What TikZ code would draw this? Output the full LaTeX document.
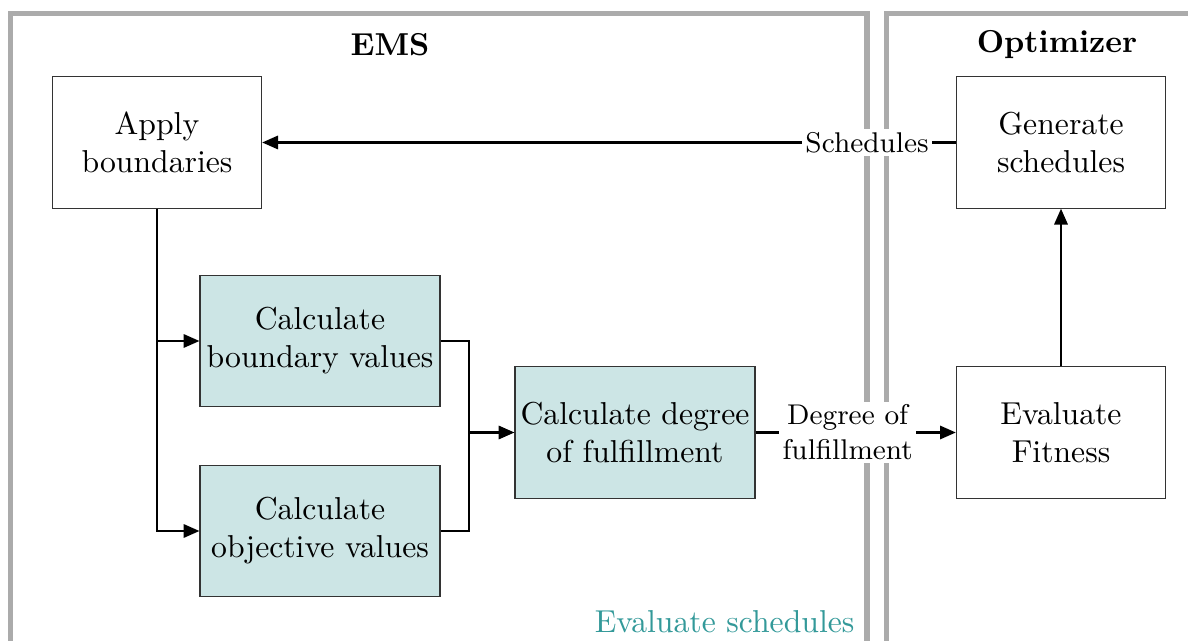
\documentclass[tikz,border=0pt]{standalone}
\usetikzlibrary{arrows.meta}
\begin{document}
\begin{tikzpicture}[x=0.3155pt,y=-0.3155pt,
  frame/.style={line width=1.6pt,draw=black!33},
  block/.style={draw=black!80,line width=0.35pt,minimum width=66pt,minimum height=41.4pt,
    align=center,inner sep=1pt,font=\normalsize},
  wideblock/.style={block,minimum width=75.7pt},
  calc/.style={fill=teal!20},
  link/.style={line width=0.7pt},
  conn/.style={link,-{Triangle[length=5pt,width=4.2pt]}},
  lbl/.style={fill=white,align=center,font=\small,inner sep=1pt},
  title/.style={font=\bfseries}]
\clip (0,0) rectangle (1188,641);

% system boundaries
\draw[frame] (10.5,660) -- (10.5,13.5) -- (867,13.5) -- (867,660);
\draw[frame] (886.5,660) -- (886.5,13.5) -- (1200,13.5);

\node[title] (ems) at (390,45) {EMS};
\node[title] (opt) at (1057,45) {Optimizer};
\node[text=teal!80,anchor=east,inner sep=0pt] (evs) at (855,622) {Evaluate schedules};

% blocks
\node[block] (apply) at (157,142.5) {Apply\\boundaries};
\node[block] (gen) at (1061,142.5) {Generate\\schedules};
\node[wideblock,calc] (bv) at (320,341) {Calculate\\boundary values};
\node[wideblock,calc] (ov) at (320,531) {Calculate\\objective values};
\node[wideblock,calc] (deg) at (635,432.5) {Calculate degree\\of fulfillment};
\node[block] (fit) at (1061,432.5) {Evaluate\\Fitness};

% connectors
\draw[conn] (gen.west) -- node[lbl,pos=0.128] (sl) {Schedules} (apply.east);
\draw[conn] (apply.south) |- (bv.west);
\draw[conn] (apply.south) |- (ov.west);
\coordinate (join) at (469,432.5);
\draw[link] (bv.east) -| (join);
\draw[link] (ov.east) -| (join);
\draw[conn] (join) -- (deg.west);
\draw[conn] (deg.east) -- node[lbl,pos=0.46] (dl) {Degree of\\fulfillment} (fit.west);
\draw[conn] (fit.north) -- (gen.south);
\end{tikzpicture}
\end{document}
